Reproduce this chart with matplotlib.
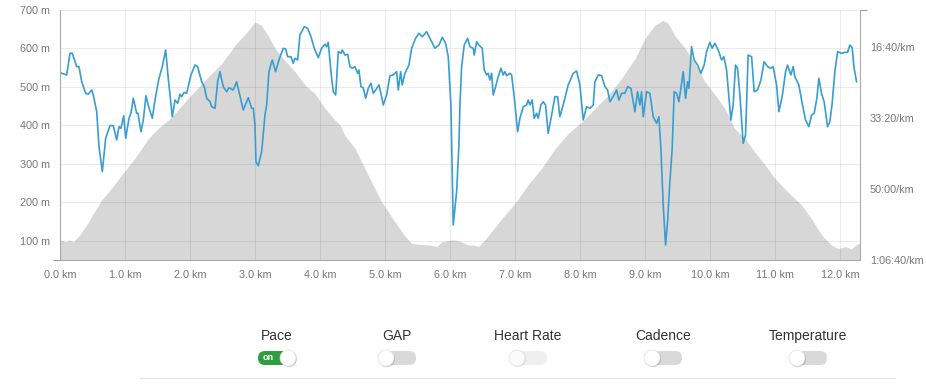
import matplotlib.pyplot as plt
import numpy as np
from matplotlib.patches import FancyBboxPatch, Circle
from matplotlib.ticker import FuncFormatter

plt.rcParams["font.family"] = ["Liberation Sans", "DejaVu Sans"]

# elevation profile (km, m)
elev_km = [0.0, 0.03, 0.08, 0.15, 0.20, 0.28, 0.41, 0.56, 0.64, 0.77, 0.95, 1.15, 1.36, 1.51,
           1.72, 1.97, 2.23, 2.49, 2.69, 2.90, 3.00, 3.10, 3.20, 3.31, 3.46, 3.62, 3.77, 3.92,
           4.08, 4.23, 4.31, 4.38, 4.54, 4.74, 4.95, 5.15, 5.31, 5.41, 5.51, 5.67, 5.80, 5.87,
           6.03, 6.08, 6.18, 6.28, 6.36, 6.44, 6.51, 6.64, 6.80, 7.00, 7.20, 7.41, 7.62, 7.82,
           8.03, 8.23, 8.44, 8.64, 8.85, 9.00, 9.15, 9.28, 9.36, 9.46, 9.62, 9.77, 9.92, 10.08,
           10.23, 10.38, 10.54, 10.69, 10.85, 11.00, 11.20, 11.41, 11.56, 11.72, 11.87, 11.97,
           12.08, 12.18, 12.26, 12.31]
elev_m = [98, 102, 97, 102, 97, 110, 141, 184, 206, 232, 271, 314, 366, 392,
          422, 470, 517, 561, 608, 647, 669, 660, 634, 600, 569, 539, 505, 483,
          444, 414, 401, 375, 340, 271, 201, 150, 112, 93, 91, 89, 85, 97,
          102, 102, 97, 89, 89, 85, 97, 124, 158, 197, 245, 288, 340, 379,
          409, 444, 479, 522, 574, 626, 660, 673, 665, 634, 600, 561, 514, 479,
          444, 392, 366, 331, 297, 262, 227, 193, 158, 115, 89, 80,
          85, 79, 91, 93]

# pace (km, seconds per km)
pace_km = [0.026, 0.103, 0.154, 0.189, 0.257, 0.292, 0.334, 0.395, 0.435, 0.488, 0.512, 0.565,
           0.600, 0.651, 0.703, 0.769, 0.820, 0.872, 0.908, 0.938, 0.980, 1.011, 1.062, 1.092,
           1.128, 1.180, 1.200, 1.246, 1.282, 1.323, 1.358, 1.420, 1.462, 1.523, 1.574, 1.626,
           1.666, 1.728, 1.769, 1.811, 1.846, 1.872, 1.912, 1.949, 2.015, 2.077, 2.118, 2.180,
           2.220, 2.257, 2.308, 2.334, 2.385, 2.426, 2.462, 2.512, 2.565, 2.600, 2.666, 2.718,
           2.754, 2.820, 2.897, 2.949, 2.974, 3.000, 3.015, 3.051, 3.103, 3.154, 3.180, 3.215,
           3.266, 3.318, 3.369, 3.435, 3.472, 3.503, 3.554, 3.589, 3.615, 3.657, 3.692, 3.758,
           3.811, 3.862, 3.912, 3.974, 4.026, 4.077, 4.103, 4.128, 4.169, 4.205, 4.242, 4.282,
           4.323, 4.343, 4.385, 4.426, 4.462, 4.497, 4.538, 4.580, 4.600, 4.631, 4.666, 4.703,
           4.743, 4.785, 4.820, 4.857, 4.908, 4.938, 4.974, 5.026, 5.077, 5.128, 5.180, 5.205,
           5.242, 5.266, 5.308, 5.369, 5.411, 5.472, 5.523, 5.574, 5.642, 5.692, 5.769, 5.831,
           5.882, 5.934, 5.974, 6.015, 6.051, 6.103, 6.138, 6.154, 6.180, 6.220, 6.272, 6.308,
           6.358, 6.374, 6.411, 6.446, 6.497, 6.528, 6.565, 6.589, 6.615, 6.642, 6.666, 6.703,
           6.743, 6.785, 6.820, 6.846, 6.872, 6.923, 6.949, 6.989, 7.042, 7.077, 7.128, 7.180,
           7.205, 7.231, 7.266, 7.297, 7.334, 7.358, 7.400, 7.435, 7.472, 7.512, 7.565, 7.615,
           7.657, 7.692, 7.743, 7.820, 7.897, 7.949, 8.000, 8.051, 8.103, 8.154, 8.205, 8.231,
           8.282, 8.334, 8.385, 8.426, 8.462, 8.512, 8.565, 8.600, 8.642, 8.692, 8.734, 8.785,
           8.820, 8.846, 8.888, 8.923, 8.949, 8.974, 9.026, 9.077, 9.128, 9.154, 9.180, 9.215,
           9.246, 9.282, 9.318, 9.349, 9.385, 9.420, 9.451, 9.488, 9.523, 9.554, 9.589, 9.626,
           9.657, 9.677, 9.718, 9.758, 9.811, 9.862, 9.912, 9.949, 10.000, 10.035, 10.077, 10.128,
           10.180, 10.215, 10.257, 10.323, 10.358, 10.395, 10.426, 10.462, 10.512, 10.549, 10.589,
           10.642, 10.682, 10.734, 10.785, 10.835, 10.888, 10.938, 10.974, 11.026, 11.062, 11.112,
           11.165, 11.195, 11.246, 11.282, 11.308, 11.369, 11.420, 11.472, 11.523, 11.565, 11.605,
           11.646, 11.677, 11.718, 11.758, 11.811, 11.846, 11.882, 11.923, 11.965, 12.026, 12.077,
           12.118, 12.154, 12.189, 12.220, 12.257]
pace_s = [1370, 1394, 1089, 1089, 1277, 1277, 1489, 1652, 1666, 1606, 1676, 1911,
          2404, 2756, 2286, 2108, 2108, 2310, 2123, 2145, 1968, 2286, 2004, 1934,
          1723, 1934, 1934, 2193, 2028, 1686, 1817, 2004, 1747, 1441, 1277, 1042,
          1441, 1982, 1747, 1793, 1666, 1700, 1638, 1652, 1394, 1254, 1277, 1489,
          1559, 1723, 1770, 1841, 1863, 1489, 1348, 1559, 1630, 1573, 1606, 1489,
          1630, 1887, 1714, 1863, 1863, 2099, 2616, 2672, 2475, 1958, 1817, 1348,
          1183, 1348, 1183, 1018, 1028, 1137, 1137, 1230, 1159, 1183, 831, 714,
          737, 855, 1018, 1151, 1018, 962, 996, 934, 1348, 1630, 1676, 1066,
          1089, 1042, 1113, 1103, 1277, 1300, 1277, 1370, 1324, 1559, 1573, 1723,
          1582, 1511, 1652, 1606, 1535, 1652, 1817, 1676, 1404, 1394, 1348, 1606,
          1348, 1535, 1370, 1254, 1018, 877, 807, 855, 784, 877, 1018, 972,
          863, 948, 1137, 1817, 3507, 3038, 2380, 1817, 1277, 972, 877, 996,
          1018, 1113, 925, 972, 1018, 1324, 1394, 1370, 1465, 1370, 1676, 1559,
          1418, 1300, 1394, 1348, 1404, 1370, 1394, 1700, 2193, 2004, 1841, 1817,
          1747, 1817, 1747, 2004, 1934, 2004, 1817, 1770, 1817, 2216, 1958, 1700,
          1700, 1982, 1817, 1535, 1370, 1338, 1535, 2028, 1841, 1863, 1817, 1489,
          1394, 1404, 1559, 1606, 1770, 1700, 1606, 1747, 1652, 1652, 1559, 1582,
          1770, 1911, 1630, 1817, 1630, 1982, 1630, 1652, 1982, 2028, 2075, 1982,
          2427, 3225, 3789, 3461, 2897, 2427, 1630, 1652, 1770, 1582, 1348, 1723,
          1489, 1582, 996, 1183, 1254, 1370, 1254, 1066, 934, 1018, 948, 1042,
          1183, 1137, 1324, 2028, 1817, 1254, 1300, 1676, 2356, 2239, 1113,
          1137, 1630, 1606, 1465, 1207, 1277, 1300, 1277, 1535, 1911, 1700,
          1348, 1254, 1394, 1277, 1418, 1535, 1793, 2028, 2123, 1958, 1934,
          1723, 1441, 1652, 1770, 2123, 2052, 1793, 1348, 1066, 1089, 1075,
          1075, 972, 1010, 1300, 1489]

km_ticks = np.arange(0, 13)
elev_ticks = [100, 200, 300, 400, 500, 600, 700]
pace_ticks = [1000, 2000, 3000, 4000]
toggle_names = ["Pace", "GAP", "Heart Rate", "Cadence", "Temperature"]
toggle_x = [277, 397, 528, 663, 808]

W, H = 926, 384
fig = plt.figure(figsize=(W / 100, H / 100), dpi=100)
ax = fig.add_axes([60 / W, 1 - 260 / H, 800 / W, 250 / H])

tick_col = "#777777"
ax.fill_between(elev_km, elev_m, 0, color="#d7d7d7", lw=0)
ax.set_xlim(0, 12.31)
ax.set_ylim(50, 700)
ax.set_xticks(km_ticks)
ax.set_xticklabels([f"{k:.1f} km" for k in km_ticks])
ax.set_yticks(elev_ticks)
ax.set_yticklabels([f"{v} m" for v in elev_ticks])
ax.grid(True, color="black", alpha=0.08, lw=0.8)
ax.tick_params(length=0, labelsize=7.8, colors=tick_col, pad=7)
ax.set_yticks([50, 700], minor=True)
ax.set_xticks([0], minor=True)
ax.tick_params(which="minor", length=5, color="#999999", width=0.8)
for s in ["top", "right"]:
    ax.spines[s].set_visible(False)
for s in ["left", "bottom"]:
    ax.spines[s].set_color("#aaaaaa")
    ax.spines[s].set_linewidth(0.8)

ax2 = ax.twinx()
ax2.plot(pace_km, pace_s, color="#3a9dcf", lw=1.2)
ax2.set_ylim(4000, 479)
ax2.set_yticks(pace_ticks)


def fmt_pace(v, pos):
    v = int(v)
    h, m, s = v // 3600, (v % 3600) // 60, v % 60
    if h:
        return f"{h}:{m:02d}:{s:02d}/km"
    return f"{m:02d}:{s:02d}/km"


ax2.yaxis.set_major_formatter(FuncFormatter(fmt_pace))
ax2.tick_params(length=0, labelsize=7.8, colors=tick_col, pad=7)
ax2.set_yticks([479, 4000], minor=True)
ax2.tick_params(which="minor", length=5, color="#999999", width=0.8)
for s in ["top", "left", "bottom"]:
    ax2.spines[s].set_visible(False)
ax2.spines["right"].set_color("#aaaaaa")
ax2.spines["right"].set_linewidth(0.8)

# toggle switches below the chart
ov = fig.add_axes([0, 0, 1, 1])
ov.set_xlim(0, W)
ov.set_ylim(H, 0)
ov.axis("off")
for i, (name, cx) in enumerate(zip(toggle_names, toggle_x)):
    ov.text(cx, 336, name, ha="center", va="center", fontsize=10, color="#333333")
    on = i == 0
    faded = name == "Heart Rate"
    pill_col = "#2e9e3e" if on else ("#efefef" if faded else "#d9d9d9")
    ov.add_patch(FancyBboxPatch((cx - 19, 351), 38, 14, boxstyle="round,pad=0,rounding_size=7",
                                fc=pill_col, ec="none"))
    kx = cx + 11 if on else cx - 11
    ov.add_patch(Circle((kx + 0.8, 359), 8.2, fc="black", alpha=0.08 if faded else 0.18, ec="none"))
    ov.add_patch(Circle((kx, 358), 8, fc="#fbfbfb" if faded else "white", ec="#e2e2e2", lw=0.5))
    if on:
        ov.text(cx - 9, 357.5, "on", ha="center", va="center", fontsize=6.5,
                color="white", fontweight="bold")
ov.plot([140, 895], [378, 378], color="#e6e6e6", lw=1)

fig.savefig("out.png", dpi=100)
